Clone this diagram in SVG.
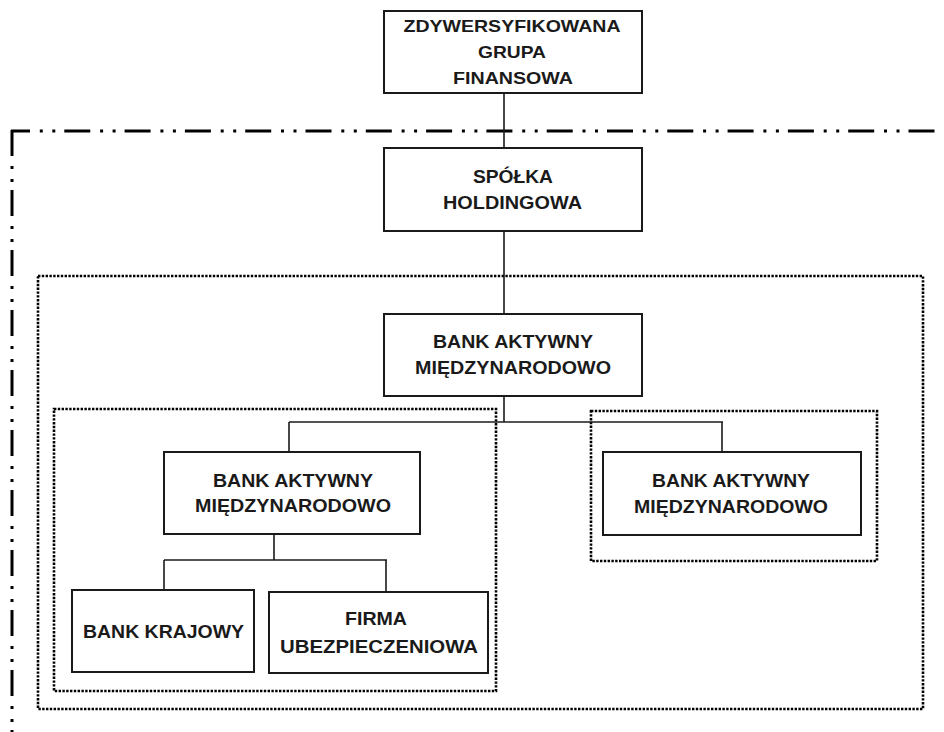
<svg xmlns="http://www.w3.org/2000/svg" width="944" height="732" viewBox="0 0 944 732">
<style>
.box{fill:#fff;stroke:#1a1a1a;stroke-width:2}
.t{font-family:"Liberation Sans",Arial,sans-serif;font-weight:bold;font-size:19px;fill:#1a1a1a;text-anchor:middle}
.ts{font-size:17.5px}
.tt{font-size:16.5px}
.con line{stroke:#1a1a1a;stroke-width:1.6}
.dot{fill:none;stroke:#000;stroke-width:2.6;stroke-dasharray:2.4 1.4}
.dd{stroke:#000;stroke-width:3;fill:none}
</style>
<rect width="944" height="732" fill="#fff"/>
<g id="frames">
<line class="dd" x1="11" y1="131" x2="944" y2="131" stroke-dasharray="26 9.8 3 9.5 3 9" stroke-dashoffset="7"/>
<line class="dd" x1="12" y1="130" x2="12" y2="732" stroke-dasharray="26 10 3 10 3 8"/>
<rect class="dot" x="38" y="276" width="885" height="433"/>
<rect class="dot" x="54" y="409" width="442" height="282"/>
<rect class="dot" x="591" y="411" width="286" height="150"/>
</g>
<g id="connectors" class="con">
<line x1="504" y1="93" x2="504" y2="148"/>
<line x1="504" y1="231" x2="504" y2="314"/>
<line x1="504" y1="396" x2="504" y2="422"/>
<line x1="289" y1="422" x2="723" y2="422"/>
<line x1="289" y1="422" x2="289" y2="452"/>
<line x1="722" y1="422" x2="722" y2="452"/>
<line x1="274" y1="534" x2="274" y2="560"/>
<line x1="164" y1="560" x2="387" y2="560"/>
<line x1="164" y1="560" x2="164" y2="590"/>
<line x1="386" y1="560" x2="386" y2="592"/>
</g>
<g id="grupa">
<rect class="box" x="384" y="11" width="258" height="82"/>
<text class="t tt" x="512" y="32" textLength="217" lengthAdjust="spacingAndGlyphs">ZDYWERSYFIKOWANA</text>
<text class="t tt" x="512" y="58" textLength="68" lengthAdjust="spacingAndGlyphs">GRUPA</text>
<text class="t tt" x="513" y="84" textLength="120" lengthAdjust="spacingAndGlyphs">FINANSOWA</text>
</g>
<g id="spolka">
<rect class="box" x="384" y="148" width="258" height="83"/>
<text class="t ts" x="513" y="183" textLength="80" lengthAdjust="spacingAndGlyphs">SPÓŁKA</text>
<text class="t ts" x="512.5" y="209" textLength="139" lengthAdjust="spacingAndGlyphs">HOLDINGOWA</text>
</g>
<g id="bank-main">
<rect class="box" x="384" y="314" width="258" height="82"/>
<text class="t ts" x="513" y="348" textLength="160" lengthAdjust="spacingAndGlyphs">BANK AKTYWNY</text>
<text class="t ts" x="513" y="374" textLength="196" lengthAdjust="spacingAndGlyphs">MIĘDZYNARODOWO</text>
</g>
<g id="bank-left">
<rect class="box" x="164" y="452" width="256" height="82"/>
<text class="t" x="293" y="487" textLength="160" lengthAdjust="spacingAndGlyphs">BANK AKTYWNY</text>
<text class="t" x="293" y="512" textLength="196" lengthAdjust="spacingAndGlyphs">MIĘDZYNARODOWO</text>
</g>
<g id="bank-right">
<rect class="box" x="603" y="452" width="258" height="83"/>
<text class="t" x="731" y="487" textLength="158" lengthAdjust="spacingAndGlyphs">BANK AKTYWNY</text>
<text class="t" x="731" y="513" textLength="194" lengthAdjust="spacingAndGlyphs">MIĘDZYNARODOWO</text>
</g>
<g id="bank-krajowy">
<rect class="box" x="72" y="590" width="182" height="82"/>
<text class="t" x="163.5" y="638" textLength="161" lengthAdjust="spacingAndGlyphs">BANK KRAJOWY</text>
</g>
<g id="firma">
<rect class="box" x="269" y="592" width="219" height="81"/>
<text class="t" x="376" y="625" textLength="62" lengthAdjust="spacingAndGlyphs">FIRMA</text>
<text class="t" x="379" y="653" textLength="198" lengthAdjust="spacingAndGlyphs">UBEZPIECZENIOWA</text>
</g>
</svg>
